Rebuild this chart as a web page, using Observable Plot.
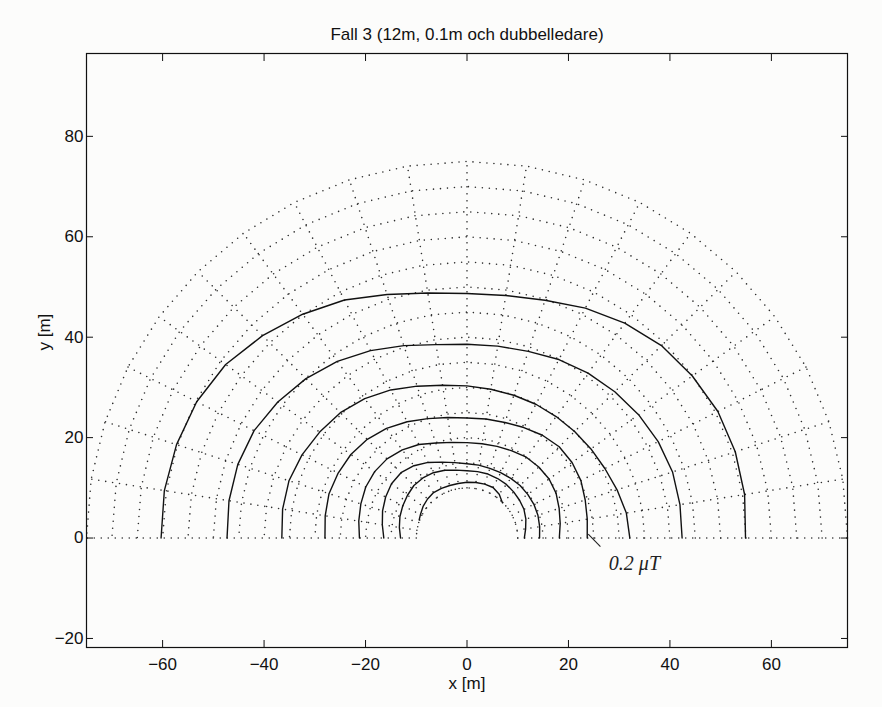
<!DOCTYPE html>
<html>
<head>
<meta charset="utf-8">
<script src="https://cdn.jsdelivr.net/npm/d3@7"></script>
<script src="https://cdn.jsdelivr.net/npm/@observablehq/plot@0.6"></script>
<style>
  html, body { margin: 0; padding: 0; background: #fcfcfb; }
  svg { display: block; }
</style>
</head>
<body>
<script>
// Axis ticks
const xTicks = [-60, -40, -20, 0, 20, 40, 60];
const yTicks = [-20, 0, 20, 40, 60, 80];

// Polar calculation mesh: rings (m) and spokes (degrees)
const meshRadii = [10, 15, 20, 25, 30, 35, 40, 45, 50, 55, 60, 65, 70, 75];
const meshAngles = [0, 9, 18, 27, 36, 45, 54, 63, 72, 81, 90, 99, 108, 117, 126, 135, 144, 153, 162, 171, 180];

// Field iso-lines: distance from origin (m) along each spoke, outermost first
const contour1 = [54.9, 55.4, 55.6, 55.5, 54.9, 54.2, 52.9, 51.4, 49.8, 48.9, 48.7, 49.4, 51.0, 53.2, 55.1, 57.0, 58.8, 59.8, 60.2, 60.4, 60.3];
const contour2 = [42.4, 42.5, 42.6, 42.3, 41.8, 41.2, 40.6, 39.9, 39.1, 38.7, 38.6, 39.0, 40.3, 41.9, 43.5, 44.9, 46.1, 47.1, 47.5, 47.5, 47.3];
const contour3 = [32.1, 31.8, 31.1, 30.5, 30.2, 30.0, 29.9, 29.9, 29.9, 30.0, 30.3, 30.8, 31.8, 33.1, 34.3, 35.3, 35.9, 36.5, 36.9, 36.8, 36.5];
const contour4 = [23.7, 24.0, 24.5, 25.2, 25.6, 25.7, 25.3, 24.7, 24.2, 24.0, 23.9, 24.3, 25.0, 26.0, 27.0, 27.8, 28.3, 28.5, 28.6, 28.3, 28.0];
const contour5 = [18.2, 18.6, 19.1, 19.7, 20.0, 20.0, 19.9, 19.5, 19.2, 19.0, 19.0, 19.3, 19.9, 20.9, 21.7, 22.3, 22.5, 22.4, 22.0, 21.6, 21.2];
const contour6 = [14.3, 14.5, 14.7, 14.8, 14.8, 14.8, 14.7, 14.6, 14.6, 14.7, 14.8, 15.2, 15.9, 16.9, 17.8, 18.4, 18.4, 18.0, 17.5, 16.9, 16.4];
const contour7 = [11.3, 11.7, 12.2, 12.6, 12.8, 13.0, 13.2, 13.3, 13.4, 13.4, 13.4, 13.7, 14.2, 14.6, 14.8, 14.8, 14.5, 14.2, 13.9, 13.5, 13.1];
// innermost iso-line only exists inside part of the mesh
const innerAngles  = [45, 54, 63, 72, 81, 90, 99, 108, 117, 126, 135, 144, 153, 159];
const innerContour = [9.9, 10.8, 11.3, 11.3, 11.2, 11.1, 11.0, 11.0, 11.1, 11.2, 11.0, 10.7, 10.3, 10.1];

// Hand-written level note and its leader
const noteText = ["0.2 μT"];
const noteAt = [[33.0, -5.0]];
const noteLeader = [[23.9, 0.8, 26.3, -1.7]];

const rad = (deg) => deg * Math.PI / 180;
const polar = (r, deg) => ({x: r * Math.cos(rad(deg)), y: r * Math.sin(rad(deg))});

// mesh rings and spokes as point lists
const rings = meshRadii.flatMap((r) => meshAngles.map((a) => ({id: "r" + r, ...polar(r, a)})));
const spokes = meshAngles.flatMap((a) => meshRadii.map((r) => ({id: "a" + a, ...polar(r, a)})));

const contourSets = [contour1, contour2, contour3, contour4, contour5, contour6, contour7];
const contours = contourSets.flatMap((radii, k) =>
  radii.map((r, i) => ({id: k, ...polar(r, meshAngles[i])}))
).concat(innerContour.map((r, i) => ({id: 7, ...polar(r, innerAngles[i])})));

const minus = (d) => (d < 0 ? "\u2212" + Math.abs(d) : String(d));
// round dots, like a ':' line style
const dotted = {stroke: "#2e2e2e", strokeWidth: 1.6, strokeLinecap: "round", strokeDasharray: "0,7"};

const chart = Plot.plot({
  width: 882,
  height: 707,
  marginLeft: 86,
  marginRight: 35,
  marginTop: 53,
  marginBottom: 60,
  style: {fontFamily: "'Liberation Sans', Arial, Helvetica, sans-serif", background: "#fcfcfb", color: "#111"},
  x: {domain: [-75, 75]},
  y: {domain: [-21.8, 96.5]},
  marks: [
    Plot.line(rings, {x: "x", y: "y", z: "id", ...dotted}),
    Plot.line(spokes, {x: "x", y: "y", z: "id", ...dotted}),
    Plot.line(contours, {x: "x", y: "y", z: "id", stroke: "#111", strokeWidth: 1.4, strokeLinejoin: "round"}),
    Plot.link(noteLeader, {x1: (d) => d[0], y1: (d) => d[1], x2: (d) => d[2], y2: (d) => d[3], stroke: "#222", strokeWidth: 1.1}),
    Plot.text(noteText, {
      x: (d, i) => noteAt[i][0], y: (d, i) => noteAt[i][1],
      fontFamily: "'Liberation Serif', 'DejaVu Serif', serif", fontStyle: "italic",
      fontSize: 20, fill: "#222", letterSpacing: 4
    }),
    Plot.frame({stroke: "#111", strokeWidth: 1.2}),
    Plot.axisX(xTicks, {anchor: "bottom", tickSize: -7, tickPadding: 17, tickFormat: minus, fontSize: 17, label: null}),
    Plot.axisX(xTicks, {anchor: "top", tickSize: -7, tickFormat: () => "", label: null}),
    Plot.axisY(yTicks, {anchor: "left", tickSize: -7, tickPadding: 10, tickFormat: minus, fontSize: 17, label: null}),
    Plot.axisY(yTicks, {anchor: "right", tickSize: -7, tickFormat: () => "", label: null}),
    Plot.text(["Fall 3 (12m, 0.1m och dubbelledare)"], {frameAnchor: "top", dy: -19, fontSize: 17, lineAnchor: "middle"}),
    Plot.text(["x [m]"], {frameAnchor: "bottom", dy: 36, fontSize: 17, lineAnchor: "middle"}),
    Plot.text(["y [m]"], {frameAnchor: "left", dx: -42, rotate: -90, fontSize: 17, lineAnchor: "middle"})
  ]
});
document.body.appendChild(chart);
</script>
</body>
</html>
